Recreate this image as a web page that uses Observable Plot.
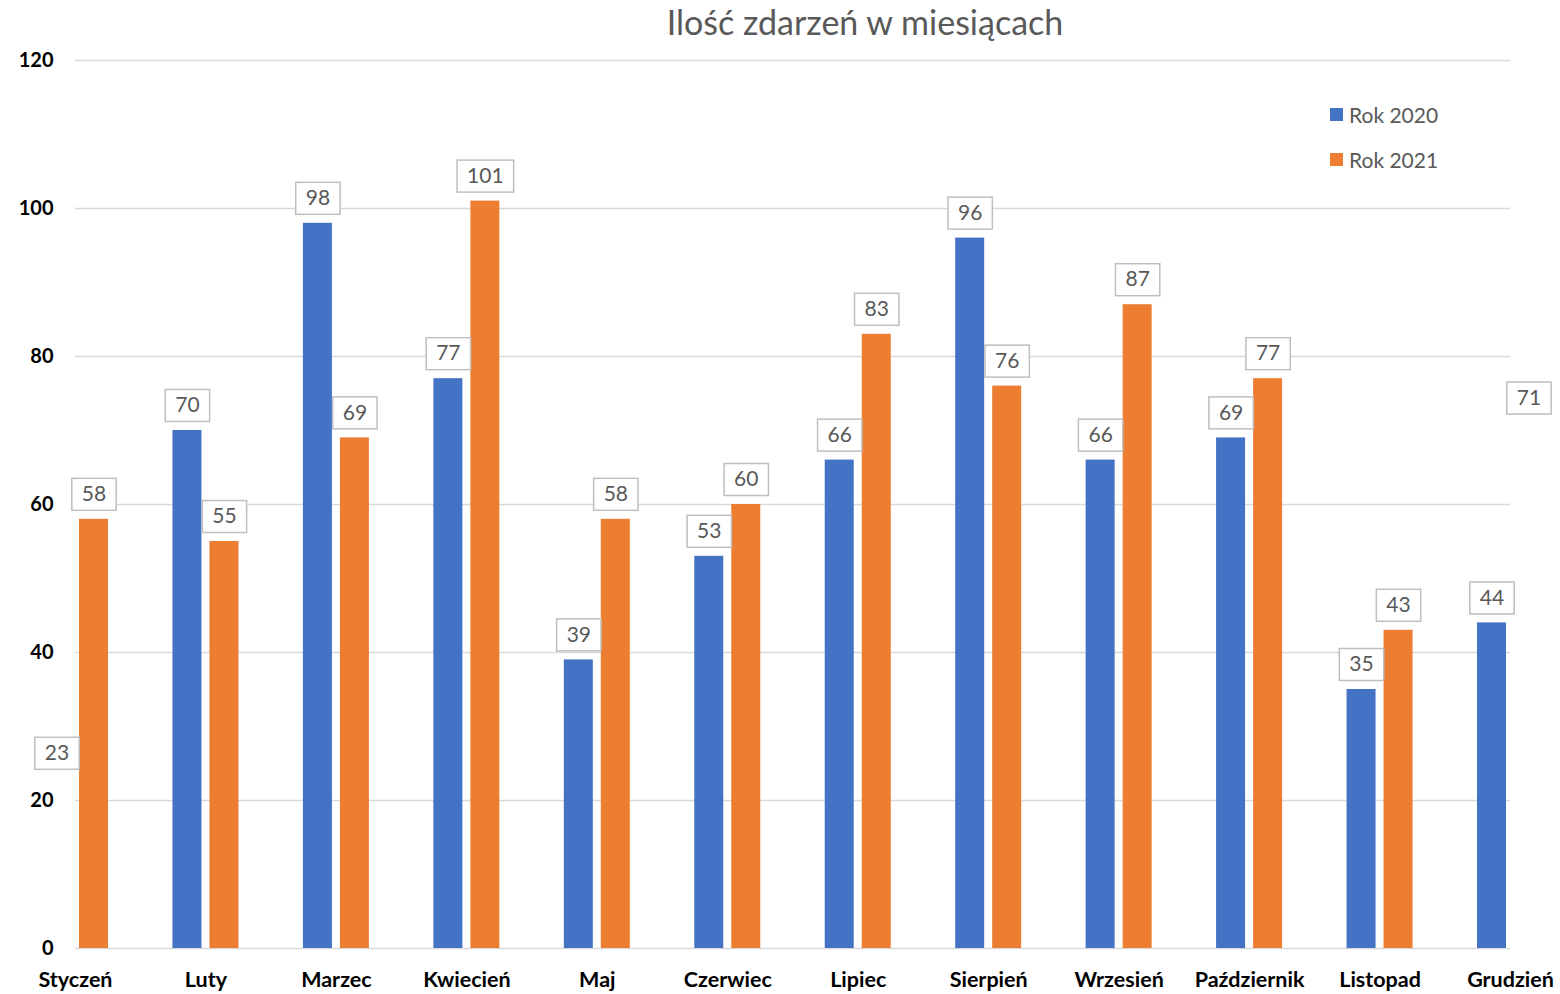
<!DOCTYPE html>
<html>
<head>
<meta charset="utf-8">
<script src="https://cdn.jsdelivr.net/npm/d3@7"></script>
<script src="https://cdn.jsdelivr.net/npm/@observablehq/plot@0.6"></script>
<style>
  html, body { margin: 0; padding: 0; background: #fff; }
  #wrap { position: relative; width: 1560px; height: 994px; font-family: Lato, "Open Sans", sans-serif; }
  #title { position: absolute; left: 0; top: 1px; width: 1730px; text-align: center; font-size: 34px; color: #595959; }
  .leg { position: absolute; left: 1330px; font-size: 21px; color: #595959; display: flex; align-items: center; }
  .leg span.sw { display: inline-block; width: 13px; height: 13px; margin-right: 6px; }
  svg { position: absolute; left: 0; top: 0; }
</style>
</head>
<body>
<div id="wrap">
  <div id="chart"></div>
  <div id="title">Ilość zdarzeń w miesiącach</div>
  <div class="leg" style="top:102px"><span class="sw" style="background:#4472C4"></span>Rok 2020</div>
  <div class="leg" style="top:147px"><span class="sw" style="background:#ED7D31"></span>Rok 2021</div>
</div>
<script>
const months = ["Styczeń","Luty","Marzec","Kwiecień","Maj","Czerwiec","Lipiec","Sierpień","Wrzesień","Październik","Listopad","Grudzień"];
const rok2020 = [23,70,98,77,39,53,66,96,66,69,35,44];
const rok2021 = [58,55,69,101,58,60,83,76,87,77,43,71];
const yTicks = [0,20,40,60,80,100,120];

const d2020 = months.map((m,i) => ({month: m, value: rok2020[i]}));
const d2021 = months.map((m,i) => ({month: m, value: rok2021[i]}));

const L = 75, R = 1510, band = (R - L) / 11;
const half = band / 2;

const chart = Plot.plot({
  width: 1560,
  height: 994,
  marginLeft: L,
  marginRight: 1560 - R,
  marginTop: 60,
  marginBottom: 46,
  style: {fontFamily: "Lato, 'Open Sans', sans-serif", background: "transparent"},
  x: {domain: months, range: [L - half, R + half], padding: 0, round: false, label: null},
  y: {domain: [0, 120], ticks: yTicks, label: null},
  marks: [
    Plot.gridY(yTicks, {stroke: "#d9d9d9", strokeOpacity: 1, strokeWidth: 1.5}),
    Plot.axisY(yTicks, {tickSize: 0, tickPadding: 22, fontSize: 20, fontWeight: "bold", fill: "#000", label: null}),
    Plot.axisX({tickSize: 0, tickPadding: 23, fontSize: 21.5, fontWeight: "bold", fill: "#000", label: null}),
    Plot.barY(d2020, {x: "month", y: "value", fill: "#4472C4", insetLeft: half - 33, insetRight: half + 4, clip: true}),
    Plot.barY(d2021, {x: "month", y: "value", fill: "#ED7D31", insetLeft: half + 4, insetRight: half - 33, clip: true}),
    Plot.text(d2020, {x: "month", y: "value", text: d => String(d.value), dx: -18.5, dy: -25, fontSize: 21, fill: "#595959"}),
    Plot.text(d2021, {x: "month", y: "value", text: d => String(d.value), dx: 18.5, dy: -25, fontSize: 21, fill: "#595959"})
  ]
});
document.getElementById("chart").appendChild(chart);

// draw label boxes behind the data labels
d3.select(chart).selectAll('g[aria-label="text"] text').each(function() {
  const bb = this.getBBox();
  const r = document.createElementNS("http://www.w3.org/2000/svg", "rect");
  r.setAttribute("x", bb.x - 10);
  r.setAttribute("y", -16);
  r.setAttribute("width", bb.width + 20);
  r.setAttribute("height", 32);
  r.setAttribute("fill", "#fff");
  r.setAttribute("stroke", "#bfbfbf");
  r.setAttribute("stroke-width", 1.5);
  const t = this.getAttribute("transform");
  if (t) r.setAttribute("transform", t);
  this.parentNode.insertBefore(r, this);
});
</script>
</body>
</html>
